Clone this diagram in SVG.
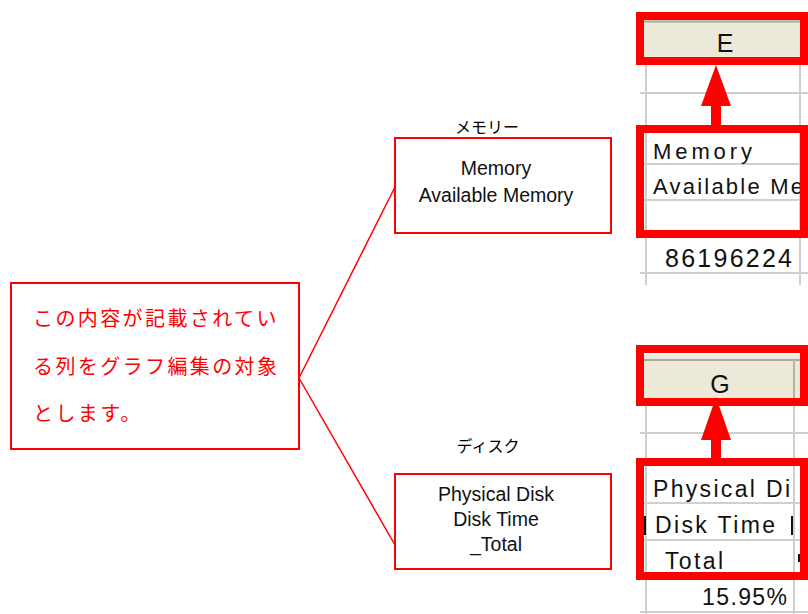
<svg xmlns="http://www.w3.org/2000/svg" width="808" height="614" viewBox="0 0 808 614">
<style>
.box{fill:#fff;stroke:#ff0000;stroke-width:2}
.hl{fill:none;stroke:#ff0000;stroke-width:8}
.conn{fill:none;stroke:#ff0000;stroke-width:1.5}
.grid{stroke:#cfcfcf;stroke-width:2}
.hdr{fill:#ECE9D8}
.jp{font-family:"Noto Sans CJK JP","Noto Sans",sans-serif;fill:#ff0000;font-size:20px;letter-spacing:2.4px}
.lbl{font-family:"Noto Sans CJK JP","Noto Sans",sans-serif;fill:#000;font-size:16px;text-anchor:middle}
.en{font-family:"Liberation Sans",Arial,sans-serif;fill:#111;font-size:19.5px;text-anchor:middle}
.cell{font-family:"Liberation Sans",Arial,sans-serif;fill:#111}
.col{font-family:"Liberation Sans",Arial,sans-serif;fill:#111;font-size:25px;text-anchor:middle}
.arrow{fill:#ff0000}
</style>
<rect width="808" height="614" fill="#fff"/>

<g id="sheet-memory">
  <line class="grid" x1="646" y1="57" x2="646" y2="285"/>
  <line class="grid" x1="800" y1="57" x2="800" y2="285"/>
  <line class="grid" x1="640" y1="93" x2="808" y2="93"/>
  <line class="grid" x1="640" y1="164" x2="808" y2="164"/>
  <line class="grid" x1="640" y1="200" x2="808" y2="200"/>
  <line class="grid" x1="640" y1="273" x2="808" y2="273"/>
  <rect class="hdr" x="644" y="20" width="158" height="37"/>
  <line x1="644" y1="21.5" x2="802" y2="21.5" stroke="#a8a898" stroke-width="2"/>
  <text class="col" x="725" y="52">E</text>
  <text class="cell" x="653" y="159" style="font-size:22px" textLength="99" lengthAdjust="spacing">Memory</text>
  <text class="cell" x="653" y="194" style="font-size:22px" textLength="150" lengthAdjust="spacing">Available Me</text>
  <text class="cell" x="665" y="267" style="font-size:25px" textLength="127" lengthAdjust="spacing">86196224</text>
  <rect class="hl" x="640" y="16" width="164" height="45"/>
  <rect class="hl" x="640" y="129" width="164" height="105"/>
  <rect class="arrow" x="711" y="104" width="10" height="22"/>
  <polygon class="arrow" points="716,65 701,106 731,106"/>
</g>

<g id="sheet-disk">
  <line class="grid" x1="646" y1="397" x2="646" y2="614"/>
  <line class="grid" x1="794" y1="397" x2="794" y2="614"/>
  <line class="grid" x1="640" y1="433" x2="808" y2="433"/>
  <line class="grid" x1="640" y1="503" x2="808" y2="503"/>
  <line class="grid" x1="640" y1="540" x2="808" y2="540"/>
  <line class="grid" x1="640" y1="612" x2="808" y2="612"/>
  <rect class="hdr" x="644" y="355" width="158" height="43"/>
  <line x1="644" y1="360" x2="802" y2="360" stroke="#a8a898" stroke-width="2"/>
  <line x1="794" y1="360" x2="794" y2="398" stroke="#b8b4a4" stroke-width="2"/>
  <text class="col" x="720" y="393">G</text>
  <text class="cell" x="653" y="497" style="font-size:23px" textLength="137" lengthAdjust="spacing">Physical Di</text>
  <text class="cell" x="655" y="533" style="font-size:23px" textLength="120" lengthAdjust="spacing">Disk Time</text>
  <rect x="644" y="516" width="2" height="19" fill="#111"/>
  <rect x="791" y="516" width="2" height="19" fill="#111"/>
  <rect x="798" y="554" width="2" height="8" fill="#111"/>
  <text class="cell" x="665" y="569" style="font-size:23px" textLength="58" lengthAdjust="spacing">Total</text>
  <text class="cell" x="787" y="605" style="font-size:23px;text-anchor:end" textLength="85" lengthAdjust="spacing">15.95%</text>
  <rect class="hl" x="640" y="349" width="164" height="53"/>
  <rect class="hl" x="640" y="462" width="164" height="114"/>
  <rect class="arrow" x="711" y="438" width="10" height="22"/>
  <polygon class="arrow" points="716,397 701,440 731,440"/>
</g>

<g id="connectors">
  <line class="conn" x1="299" y1="378" x2="395" y2="187"/>
  <line class="conn" x1="299" y1="378" x2="395" y2="545"/>
</g>

<g id="note">
  <rect class="box" x="11" y="283" width="288" height="166"/>
  <text class="jp" x="33" y="326">この内容が記載されてい</text>
  <text class="jp" x="33" y="374">る列をグラフ編集の対象</text>
  <text class="jp" x="33" y="421">とします。</text>
</g>

<g id="memory">
  <text class="lbl" x="487" y="133">メモリー</text>
  <rect class="box" x="395" y="138" width="216" height="95"/>
  <text class="en" x="496" y="175">Memory</text>
  <text class="en" x="496" y="202">Available Memory</text>
</g>

<g id="disk">
  <text class="lbl" x="488" y="452">ディスク</text>
  <rect class="box" x="395" y="474" width="216" height="95"/>
  <text class="en" x="496" y="501">Physical Disk</text>
  <text class="en" x="496" y="526">Disk Time</text>
  <text class="en" x="496" y="551">_Total</text>
</g>
</svg>
